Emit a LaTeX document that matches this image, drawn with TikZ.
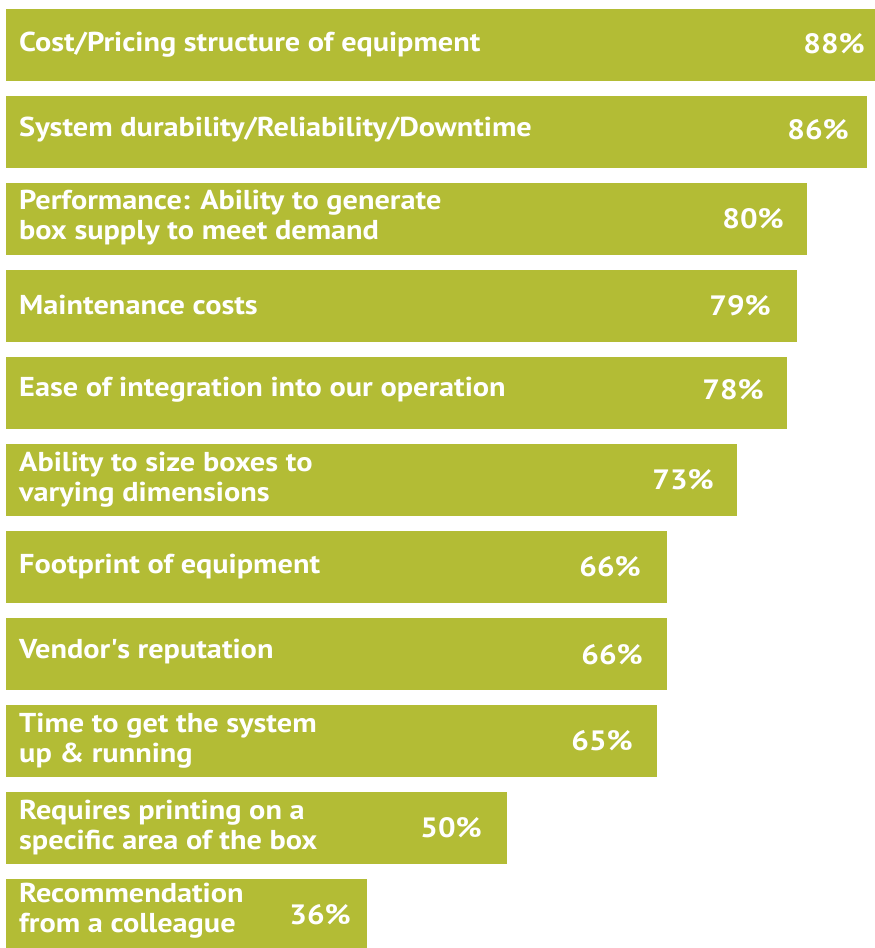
\documentclass[tikz,border=0pt]{standalone}
\usepackage{fontspec}
\setmainfont{PT Sans}[FakeStretch=1.11]
\definecolor{barcol}{RGB}{179,188,53}
\begin{document}
\begin{tikzpicture}[x=1pt,y=-1pt,
  bar/.style={fill=barcol, draw=none},
  lab/.style={anchor=west, text=white, font=\bfseries\fontsize{27.3}{30}\selectfont, align=left, inner sep=0pt},
  pct/.style={anchor=east, text=white, font=\bfseries\fontsize{28}{30}\selectfont, inner sep=0pt}]
\useasboundingbox (0,0) rectangle (875,948);
\fill[white] (0,0) rectangle (875,948);
% bars
\fill[bar] (6,9) rectangle (875,81);
\fill[bar] (6,96) rectangle (867,168);
\fill[bar] (6,183) rectangle (807,255);
\fill[bar] (6,270) rectangle (797,342);
\fill[bar] (6,357) rectangle (787,429);
\fill[bar] (6,444) rectangle (737,516);
\fill[bar] (6,531) rectangle (667,603);
\fill[bar] (6,618) rectangle (667,690);
\fill[bar] (6,705) rectangle (657,777);
\fill[bar] (6,792) rectangle (507,864);
\fill[bar] (6,879) rectangle (367,951);
% labels
\node[lab] (l1) at (19,45) {Cost/Pricing structure of equipment};
\node[lab] (l2) at (19,130) {System durability/Reliability/Downtime};
\node[lab] (l3) at (19,218) {Performance: Ability to generate\\box supply to meet demand};
\node[lab] (l4) at (19,305) {Maintenance costs};
\node[lab] (l5) at (19,390) {Ease of integration into our operation};
\node[lab] (l6) at (19,480) {Ability to size boxes to\\varying dimensions};
\node[lab] (l7) at (19,567) {Footprint of equipment};
\node[lab] (l8) at (19,652) {Vendor\textquotesingle s reputation};
\node[lab] (l9) at (19,741) {Time to get the system\\up \& running};
\node[lab] (l10) at (19,828) {Requires printing on a\\specific area of the box};
\node[lab] (l11) at (19,911) {Recommendation\\from a colleague};
% percentages
\node[pct] (p1) at (865,44) {88\%};
\node[pct] (p2) at (849,130) {86\%};
\node[pct] (p3) at (784,219) {80\%};
\node[pct] (p4) at (771,306) {79\%};
\node[pct] (p5) at (764,390) {78\%};
\node[pct] (p6) at (714,480) {73\%};
\node[pct] (p7) at (641,567) {66\%};
\node[pct] (p8) at (643,655) {66\%};
\node[pct] (p9) at (633,741) {65\%};
\node[pct] (p10) at (482,828) {50\%};
\node[pct] (p11) at (351,915) {36\%};
\end{tikzpicture}
\end{document}
